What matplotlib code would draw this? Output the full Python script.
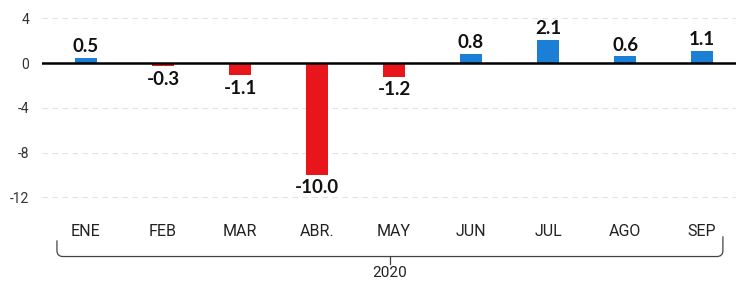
import numpy as np
import matplotlib
matplotlib.use('Agg')
from matplotlib import pyplot as plt
from matplotlib.path import Path
from matplotlib.patches import PathPatch
import matplotlib.transforms as mtransforms

# monthly change, 2020
months = ['ENE', 'FEB', 'MAR', 'ABR.', 'MAY', 'JUN', 'JUL', 'AGO', 'SEP']
values = [0.5, -0.3, -1.1, -10.0, -1.2, 0.8, 2.1, 0.6, 1.1]
labels = ['0.5', '-0.3', '-1.1', '-10.0', '-1.2', '0.8', '2.1', '0.6', '1.1']
year = '2020'
yticks = [4, 0, -4, -8, -12]

blue = '#1b7fd6'
red = '#e8151b'

fig = plt.figure(figsize=(7.36, 2.88), dpi=100)
# axes: x 42..736 px, y 1..203 px
ax = fig.add_axes([42 / 736, 1 - 203 / 288, 694 / 736, 202 / 288])

x = np.arange(len(months))
cols = [blue if v > 0 else red for v in values]
ax.bar(x, values, width=0.29, color=cols, zorder=3)

ax.set_xlim(-0.571, 8.44)
ax.set_ylim(-12.5, 5.55)

# faint dashed grid
for t in yticks:
    if t != 0:
        ax.axhline(t, color='#e2e2e2', lw=0.8, ls=(0, (5, 4)), zorder=1)
ax.axhline(0, color='black', lw=1.8, zorder=4)

for s in ax.spines.values():
    s.set_visible(False)
ax.set_yticks(yticks)
ax.set_yticklabels([str(t) for t in yticks], fontsize=10, color='#333333', family='Roboto')
ax.tick_params(axis='y', length=0, pad=9)
ax.set_xticks(x)
ax.set_xticklabels(months, fontsize=11.5, color='#222222', family='Roboto')
ax.tick_params(axis='x', length=0, pad=15)

for xi, v, lab in zip(x, values, labels):
    if v > 0:
        ax.annotate(lab, (xi, v), xytext=(0, 2), textcoords='offset points',
                    ha='center', va='bottom', fontsize=13.5, fontweight='bold',
                    family='Lato', color='#111111', zorder=5)
    else:
        ax.annotate(lab, (xi, v), xytext=(0, -3), textcoords='offset points',
                    ha='center', va='top', fontsize=13.5, fontweight='bold',
                    family='Lato', color='#111111', zorder=5)

# bracket under the months
tr = mtransforms.blended_transform_factory(ax.transData, ax.transAxes)
x0, x1 = -0.377, 8.27
ytop, ybot = -0.185, -0.265
r = 0.08
verts = [(x0, ytop), (x0, ybot + 0.03), (x0, ybot), (x0 + r, ybot),
         (x1 - r, ybot), (x1, ybot), (x1, ybot + 0.03), (x1, ytop + 0.02)]
codes = [Path.MOVETO, Path.LINETO, Path.CURVE3, Path.CURVE3,
         Path.LINETO, Path.CURVE3, Path.CURVE3, Path.LINETO]
ax.add_patch(PathPatch(Path(verts, codes), transform=tr, fill=False,
                       lw=0.9, color='#444444', clip_on=False))
xm = (x0 + x1) / 2
ax.plot([xm, xm], [ybot, ybot - 0.035], transform=tr, color='#444444',
        lw=0.9, clip_on=False)
ax.text(xm, ybot - 0.045, year, transform=tr, ha='center', va='top',
        fontsize=11, family='Roboto', color='#222222')

fig.savefig('out.png', dpi=100)
